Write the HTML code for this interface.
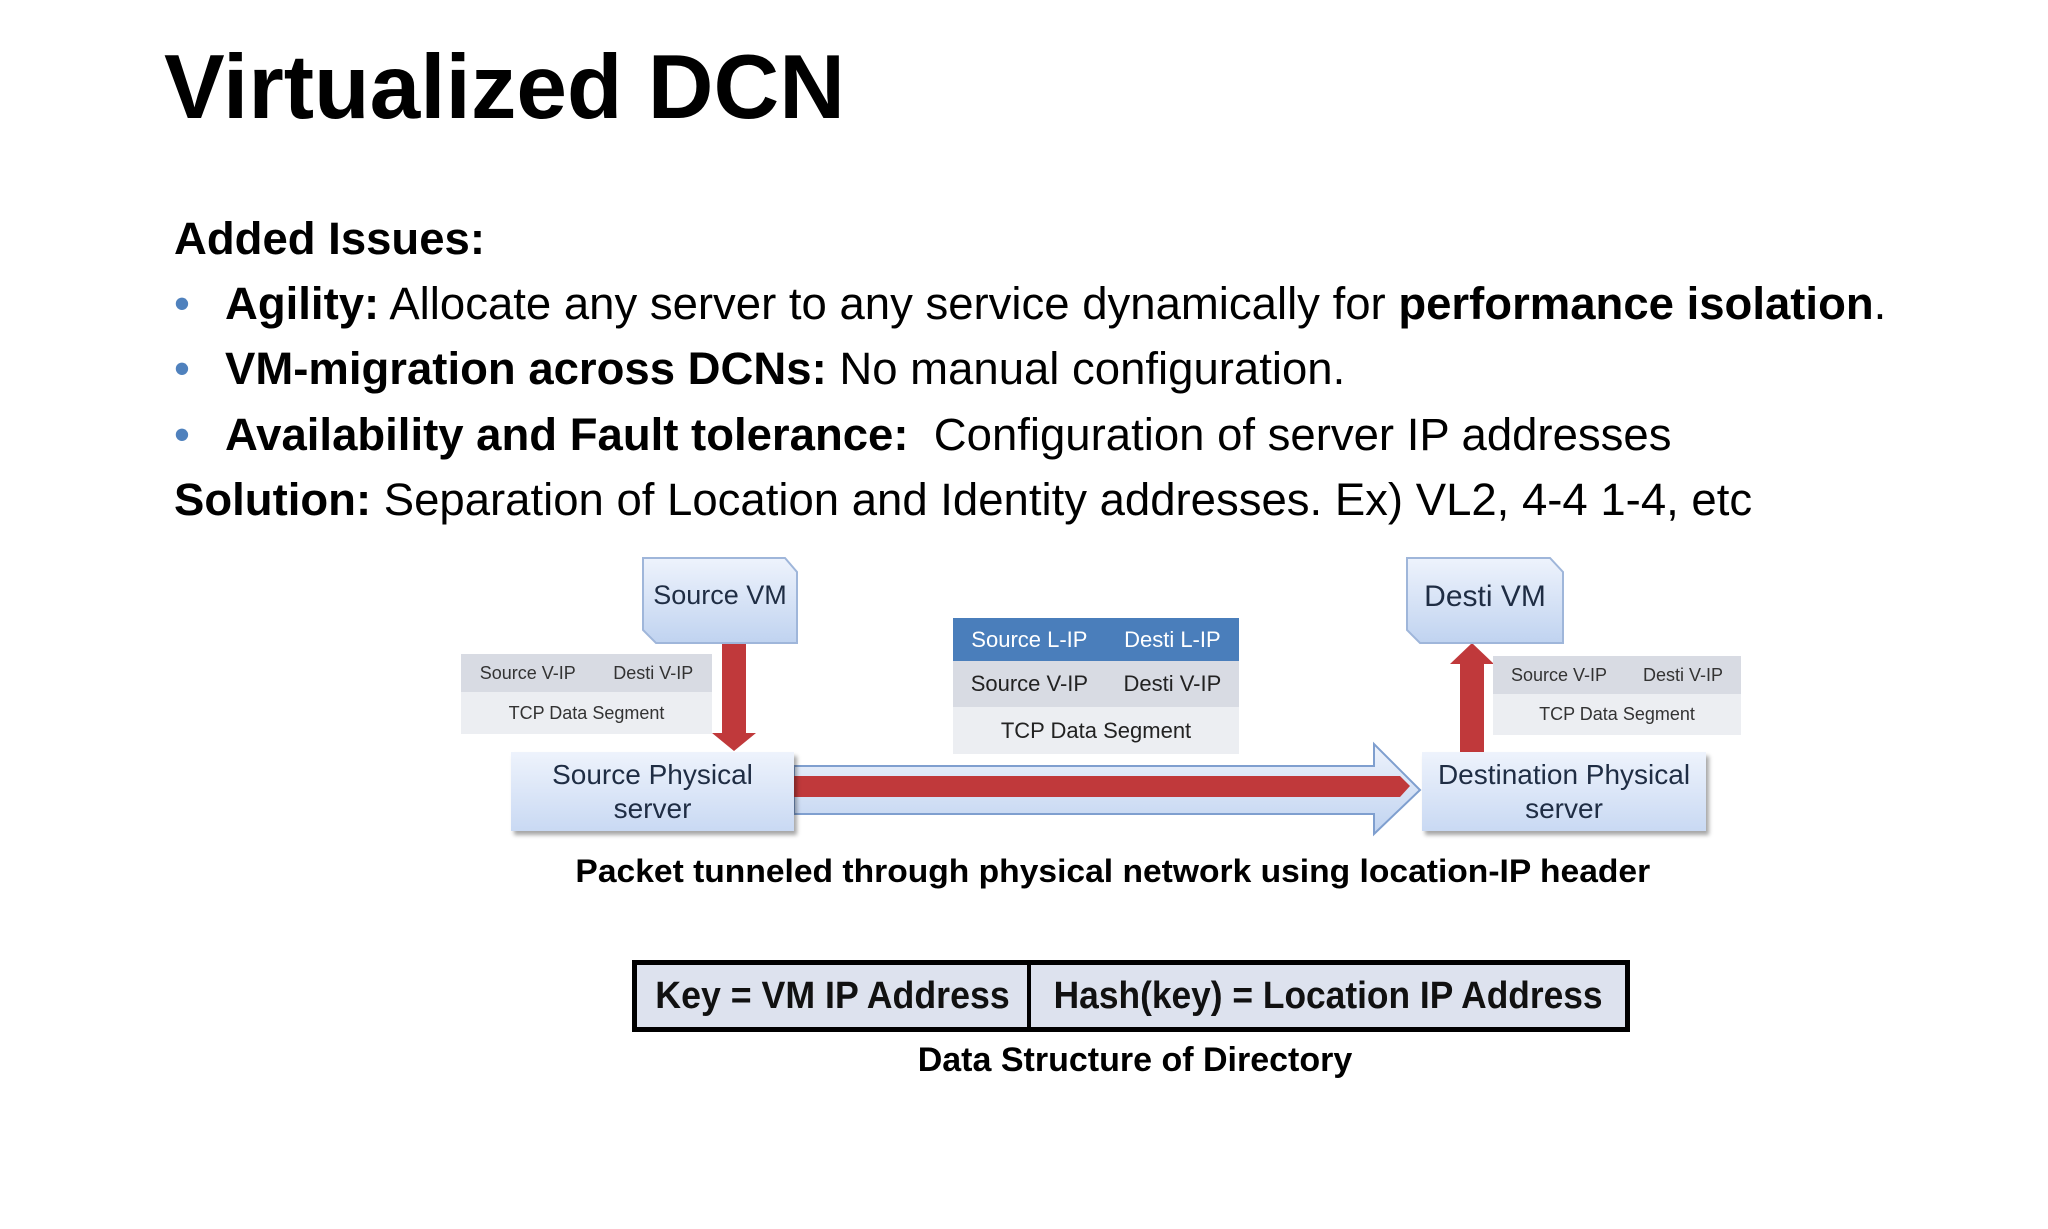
<!DOCTYPE html>
<html><head><meta charset="utf-8"><style>
html,body{margin:0;padding:0;background:#fff}
body{width:2048px;height:1229px;position:relative;overflow:hidden;font-family:"Liberation Sans",sans-serif;color:#000}
.a{position:absolute;white-space:nowrap}
.t{font-size:45.5px;line-height:1}
.bul{color:#4f81bd}
.box{position:absolute;background:linear-gradient(#eef3fc,#c9d9f3);box-shadow:3px 4px 4px rgba(0,0,0,.35);display:flex;align-items:center;justify-content:center;text-align:center;color:#1f2d44;font-size:28px;line-height:34px}
.tbl{position:absolute;font-size:18px;color:#333}
.row{display:flex;justify-content:space-around;align-items:center}
</style></head><body>
<div class="a" style="left:164px;top:42px;font-size:91px;font-weight:bold;line-height:1">Virtualized DCN</div>
<div class="a t" style="left:174px;top:216px;font-weight:bold">Added Issues:</div>
<div class="a t" style="left:174px;top:281px"><span class="bul">•</span></div>
<div class="a t" style="left:225px;top:281px"><b>Agility:</b> Allocate any server to any service dynamically for <b>performance isolation</b>.</div>
<div class="a t" style="left:174px;top:346px"><span class="bul">•</span></div>
<div class="a t" style="left:225px;top:346px"><b>VM-migration across DCNs:</b> No manual configuration.</div>
<div class="a t" style="left:174px;top:412px"><span class="bul">•</span></div>
<div class="a t" style="left:225px;top:412px"><b>Availability and Fault tolerance:</b>&nbsp; Configuration of server IP addresses</div>
<div class="a t" style="left:174px;top:477px"><b>Solution:</b> Separation of Location and Identity addresses. Ex) VL2, 4-4 1-4, etc</div>

<svg class="a" style="left:0;top:0" width="2048" height="1229">
<defs><linearGradient id="g" x1="0" y1="0" x2="0" y2="1"><stop offset="0" stop-color="#eef3fc"/><stop offset="1" stop-color="#c0d3f0"/></linearGradient></defs>
<polygon points="794,766 1374,766 1374,744 1420,790 1374,834 1374,814 794,814" fill="url(#g)" stroke="#7f9fcf" stroke-width="2"/>
<polygon points="794,776 1400,776 1410,786 1400,797 794,797" fill="#c0393b"/>
<rect x="722" y="643" width="24" height="92" fill="#c0393b"/>
<polygon points="712,733 756,733 734,751" fill="#c0393b"/>
<rect x="1460" y="662" width="24" height="90" fill="#c0393b"/>
<polygon points="1450,664 1494,664 1472,643" fill="#c0393b"/>
<polygon points="643,558 785,558 797,572 797,643 656,643 643,630" fill="url(#g)" stroke="#9fb6da" stroke-width="2"/>
<polygon points="1407,558 1550,558 1563,572 1563,643 1420,643 1407,630" fill="url(#g)" stroke="#9fb6da" stroke-width="2"/>
</svg>
<div class="a" style="left:643px;top:580px;width:154px;text-align:center;font-size:27px;color:#1f2d44">Source VM</div>
<div class="a" style="left:1407px;top:580px;width:156px;text-align:center;font-size:30px;color:#1f2d44">Desti VM</div>

<div class="tbl" style="left:461px;top:654px;width:251px">
<div class="row" style="height:38px;background:#d8dbe3"><span>Source V-IP</span><span>Desti V-IP</span></div>
<div class="row" style="height:42px;background:#eceef2">TCP Data Segment</div></div>
<div class="tbl" style="left:1493px;top:656px;width:248px">
<div class="row" style="height:38px;background:#d8dbe3"><span>Source V-IP</span><span>Desti V-IP</span></div>
<div class="row" style="height:41px;background:#eceef2">TCP Data Segment</div></div>
<div class="tbl" style="left:953px;top:618px;width:286px;font-size:22px">
<div class="row" style="height:43px;background:#4a7ebb;color:#fff"><span>Source L-IP</span><span>Desti L-IP</span></div>
<div class="row" style="height:46px;background:#d8dbe3;color:#222"><span>Source V-IP</span><span>Desti V-IP</span></div>
<div class="row" style="height:47px;background:#eceef2;color:#222">TCP Data Segment</div></div>

<div class="box" style="left:511px;top:752px;width:283px;height:79px">Source Physical<br>server</div>
<div class="box" style="left:1422px;top:752px;width:284px;height:79px">Destination Physical<br>server</div>

<div class="a" style="left:0;width:2226px;text-align:center;top:853px;font-size:32px;font-weight:bold"><span style="display:inline-block;transform:scaleX(1.05)">Packet tunneled through physical network using location-IP header</span></div>

<div class="a" style="left:632px;top:960px;width:988px;height:62px;border:5px solid #000;background:#dde2ee;display:flex;font-weight:bold;font-size:38px;color:#111">
<div style="width:390px;border-right:4px solid #000;display:flex;align-items:center;justify-content:center"><span style="display:inline-block;transform:scaleX(.94)">Key = VM IP Address</span></div>
<div style="flex:1;display:flex;align-items:center;justify-content:center"><span style="display:inline-block;transform:scaleX(.93)">Hash(key) = Location IP Address</span></div>
</div>
<div class="a" style="left:0;width:2270px;text-align:center;top:1041px;font-size:34px;font-weight:bold">Data Structure of Directory</div>
</body></html>
